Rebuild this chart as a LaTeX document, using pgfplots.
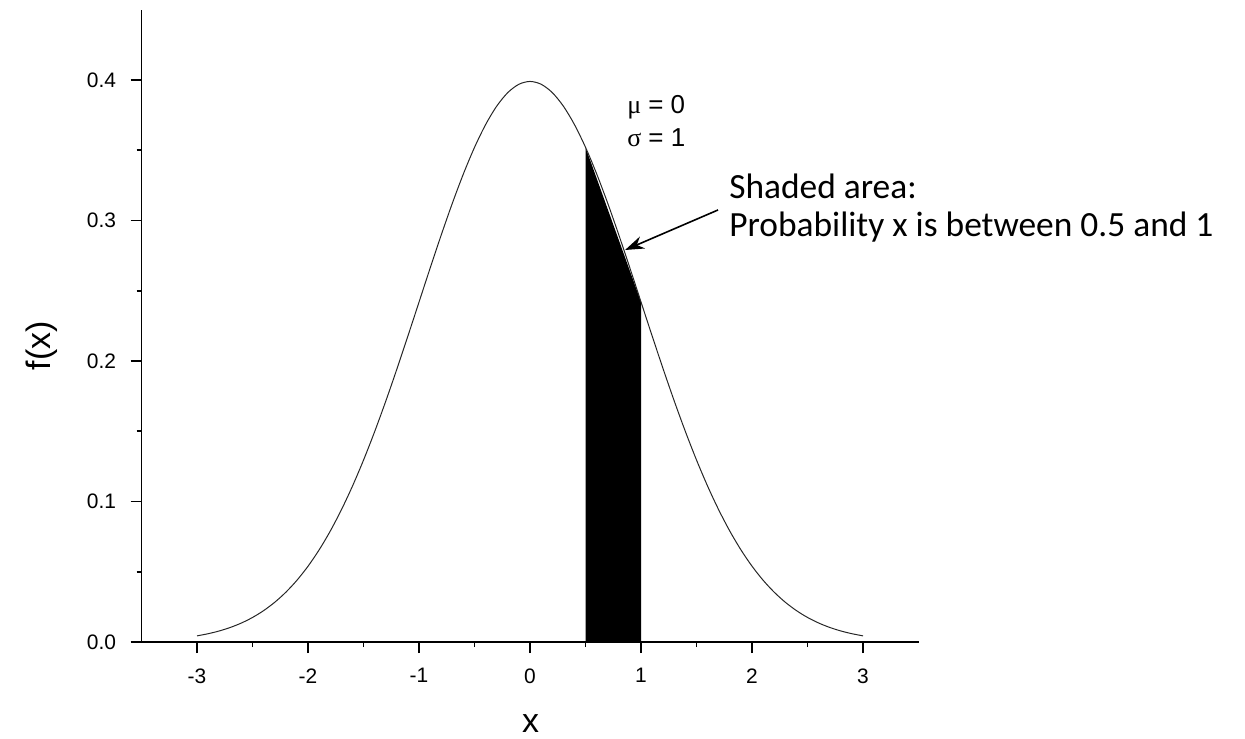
\documentclass[border=0pt]{standalone}
\usepackage{pgfplots}
\pgfplotsset{compat=1.18}
\usepackage{fontspec}
\setmainfont{Liberation Sans}
\newfontfamily\calibrifont{Carlito}
\newfontfamily\greekfont{Liberation Serif}
\usetikzlibrary{arrows.meta}

% standard normal density, mu = 0, sigma = 1
\pgfplotstableread{
x y
-3.0 0.004432
-2.9 0.005953
-2.8 0.007915
-2.7 0.010421
-2.6 0.013583
-2.5 0.017528
-2.4 0.022395
-2.3 0.028327
-2.2 0.035475
-2.1 0.043984
-2.0 0.053991
-1.9 0.065616
-1.8 0.078950
-1.7 0.094049
-1.6 0.110921
-1.5 0.129518
-1.4 0.149727
-1.3 0.171369
-1.2 0.194186
-1.1 0.217852
-1.0 0.241971
-0.9 0.266085
-0.8 0.289692
-0.7 0.312254
-0.6 0.333225
-0.5 0.352065
-0.4 0.368270
-0.3 0.381388
-0.2 0.391043
-0.1 0.396953
0.0 0.398942
0.1 0.396953
0.2 0.391043
0.3 0.381388
0.4 0.368270
0.5 0.352065
0.6 0.333225
0.7 0.312254
0.8 0.289692
0.9 0.266085
1.0 0.241971
1.1 0.217852
1.2 0.194186
1.3 0.171369
1.4 0.149727
1.5 0.129518
1.6 0.110921
1.7 0.094049
1.8 0.078950
1.9 0.065616
2.0 0.053991
2.1 0.043984
2.2 0.035475
2.3 0.028327
2.4 0.022395
2.5 0.017528
2.6 0.013583
2.7 0.010421
2.8 0.007915
2.9 0.005953
3.0 0.004432
}\pdfdata

\begin{document}
\begin{tikzpicture}
\begin{axis}[
  scale only axis,
  width=779bp, height=634bp,
  xmin=-3.5, xmax=3.5,
  ymin=0, ymax=0.45,
  axis x line*=bottom,
  axis y line*=left,
  axis line style={line width=1.6bp},
  every tick/.style={black, line width=1.6bp},
  tick align=outside,
  major tick length=11bp,
  minor tick length=5bp,
  xtick={-3,-2,-1,0,1,2,3},
  xticklabels={-3,-2,-1,0,1,2,3},
  ytick={0,0.1,0.2,0.3,0.4},
  yticklabels={0.0,0.1,0.2,0.3,0.4},
  minor x tick num=1,
  minor y tick num=1,
  tick label style={font=\fontsize{21bp}{25bp}\selectfont},
  xticklabel shift=12bp,
  yticklabel shift=11bp,
  xlabel={x},
  ylabel={f(x)},
  label style={font=\fontsize{34bp}{40bp}\selectfont, inner sep=0pt},
  xlabel style={at={(axis description cs:0.5006,-0.1430)}, anchor=base},
  ylabel style={at={(axis description cs:-0.1284,0.4685)}, anchor=center, rotate=0},
  clip=false,
]
% shaded region between x = 0.5 and x = 1
\addplot[fill=black, draw=none] coordinates {
  (0.5,0) (0.5,0.352065) (1.0,0.241971) (1.0,0)} -- cycle;
\addplot[black!85, line width=1bp, smooth] table[x=x, y=y] {\pdfdata};

\node[anchor=base west, font=\fontsize{26bp}{30bp}\selectfont, inner sep=0pt]
  at (axis cs:0.874,0.376) {{\greekfont μ} = 0};
\node[anchor=base west, font=\fontsize{26bp}{30bp}\selectfont, inner sep=0pt]
  at (axis cs:0.874,0.3525) {{\greekfont σ} = 1};

\node[anchor=base west, font=\calibrifont\fontsize{35.5bp}{42bp}\selectfont, inner sep=0pt]
  at (axis cs:1.793,0.316) {Shaded area:};
\node[anchor=base west, font=\calibrifont\fontsize{35.5bp}{42bp}\selectfont, inner sep=0pt]
  at (axis cs:1.793,0.2883) {Probability x is between 0.5 and 1};

\draw[-{Stealth[length=19bp,width=13bp]}, line width=1.6bp]
  (axis cs:1.694,0.3075) -- (axis cs:0.856,0.279);

\coordinate (bbsw) at (axis cs:-4.775,-0.0683);
\coordinate (bbne) at (axis cs:6.441,0.4569);
\end{axis}
\pgfresetboundingbox
\path[use as bounding box] (bbsw) rectangle (bbne);
\end{tikzpicture}
\end{document}
